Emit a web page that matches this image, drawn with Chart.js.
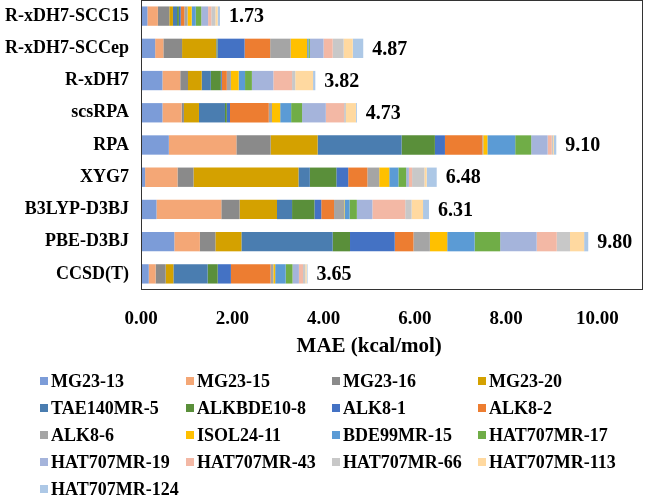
<!DOCTYPE html>
<html>
<head>
<meta charset="utf-8">
<script src="https://cdn.jsdelivr.net/npm/chart.js@4.4.1/dist/chart.umd.min.js"></script>
<style>
  html, body { margin: 0; padding: 0; background: #fff; }
  #wrap { position: relative; width: 652px; height: 500px; }
</style>
</head>
<body>
<div id="wrap"><canvas id="maeChart" width="652" height="500"></canvas></div>
<script>
// methods, top to bottom
const methods = ['R-xDH7-SCC15', 'R-xDH7-SCCep', 'R-xDH7', 'scsRPA', 'RPA', 'XYG7', 'B3LYP-D3BJ', 'PBE-D3BJ', 'CCSD(T)'];
const totals = [1.73, 4.87, 3.82, 4.73, 9.10, 6.48, 6.31, 9.80, 3.65];

const subsets = ['MG23-13', 'MG23-15', 'MG23-16', 'MG23-20', 'TAE140MR-5', 'ALKBDE10-8', 'ALK8-1', 'ALK8-2',
  'ALK8-6', 'ISOL24-11', 'BDE99MR-15', 'HAT707MR-17', 'HAT707MR-19', 'HAT707MR-43', 'HAT707MR-66',
  'HAT707MR-113', 'HAT707MR-124'];

// contribution of each subset to the MAE, one array per method (same order as subsets)
const scc15   = [0.14, 0.23, 0.25, 0.08, 0.09, 0.04, 0.04, 0.08, 0.07, 0.09, 0.09, 0.12, 0.15, 0.07, 0.09, 0.05, 0.05];
const sccep   = [0.31, 0.18, 0.41, 0.75, 0.02, 0.01, 0.59, 0.56, 0.45, 0.36, 0.03, 0.03, 0.30, 0.20, 0.24, 0.20, 0.23];
const xdh7    = [0.47, 0.39, 0.17, 0.30, 0.20, 0.22, 0.02, 0.11, 0.09, 0.17, 0.14, 0.15, 0.47, 0.41, 0.07, 0.39, 0.05];
const scsrpa  = [0.47, 0.42, 0.05, 0.33, 0.57, 0.04, 0.07, 0.85, 0.07, 0.18, 0.24, 0.24, 0.52, 0.40, 0.04, 0.22, 0.02];
const rpa     = [0.61, 1.48, 0.75, 1.03, 1.84, 0.73, 0.22, 0.82, 0.02, 0.09, 0.61, 0.35, 0.36, 0.09, 0.03, 0.02, 0.05];
const xyg7    = [0.09, 0.71, 0.35, 2.30, 0.25, 0.58, 0.26, 0.42, 0.26, 0.22, 0.20, 0.17, 0.06, 0.07, 0.27, 0.05, 0.22];
const b3lyp   = [0.34, 1.42, 0.40, 0.82, 0.33, 0.49, 0.15, 0.28, 0.22, 0.01, 0.11, 0.16, 0.34, 0.72, 0.14, 0.25, 0.13];
const pbe     = [0.73, 0.56, 0.34, 0.57, 2.00, 0.38, 0.98, 0.41, 0.36, 0.38, 0.60, 0.56, 0.80, 0.44, 0.29, 0.31, 0.09];
const ccsdt   = [0.17, 0.15, 0.22, 0.17, 0.75, 0.22, 0.29, 0.87, 0.06, 0.04, 0.23, 0.15, 0.14, 0.09, 0.05, 0.03, 0.02];

const xTicks = [0, 2, 4, 6, 8, 10];
const xTitle = 'MAE (kcal/mol)';

const colors = ['#7C9CD8', '#F4A776', '#8A8A8A', '#D4A100', '#4A7DB0', '#5A8F3A', '#4472C4', '#ED7D31',
  '#A5A5A5', '#FFC000', '#5B9BD5', '#70AD47', '#A5B4DB', '#F3B8A5', '#C8C8C8', '#FFD9A0', '#ADC8E6'];

const rows = [scc15, sccep, xdh7, scsrpa, rpa, xyg7, b3lyp, pbe, ccsdt];
const FONT = '"Liberation Serif", "Times New Roman", serif';

const datasets = subsets.map((name, s) => ({
  label: name,
  data: rows.map(r => r[s]),
  backgroundColor: colors[s],
  borderWidth: 0,
  barPercentage: 0.6,
  categoryPercentage: 1.0
}));

// bold totals after each bar
const totalLabels = {
  id: 'totalLabels',
  afterDatasetsDraw(chart) {
    const ctx = chart.ctx;
    const meta = chart.getDatasetMeta(chart.data.datasets.length - 1);
    ctx.save();
    ctx.font = 'bold 20px ' + FONT;
    ctx.fillStyle = '#000';
    ctx.textBaseline = 'middle';
    ctx.textAlign = 'left';
    meta.data.forEach((bar, i) => {
      ctx.fillText(totals[i].toFixed(2), bar.x + 9, bar.y + 1);
    });
    ctx.restore();
  }
};

// frame round the plot area + axis title centred under the 0-10 range
const frame = {
  id: 'frame',
  afterDraw(chart) {
    const a = chart.chartArea;
    const ctx = chart.ctx;
    const xs = chart.scales.x;
    ctx.save();
    ctx.strokeStyle = '#333';
    ctx.lineWidth = 1;
    ctx.strokeRect(Math.round(a.left) + 0.5, Math.round(a.top) + 0.5,
      Math.round(a.right - a.left) - 1, Math.round(a.bottom - a.top) - 1);
    ctx.font = 'bold 21px ' + FONT;
    ctx.fillStyle = '#000';
    ctx.textAlign = 'center';
    ctx.textBaseline = 'middle';
    const cx = (xs.getPixelForValue(xTicks[0]) + xs.getPixelForValue(xTicks[xTicks.length - 1])) / 2;
    ctx.fillText(xTitle, cx, a.bottom + 57);
    ctx.restore();
  }
};

// legend laid out as a 4-column grid like the original
const gridLegend = {
  id: 'gridLegend',
  afterDraw(chart) {
    const ctx = chart.ctx;
    ctx.save();
    ctx.font = 'bold 18px ' + FONT;
    ctx.textBaseline = 'middle';
    chart.data.datasets.forEach((ds, i) => {
      const col = i % 4, row = Math.floor(i / 4);
      const x = 40 + col * 146;
      const y = 381 + row * 27;
      ctx.fillStyle = ds.backgroundColor;
      ctx.fillRect(x, y - 4, 8, 8);
      ctx.fillStyle = '#000';
      ctx.fillText(ds.label, x + 11, y + 1);
    });
    ctx.restore();
  }
};

new Chart(document.getElementById('maeChart'), {
  type: 'bar',
  data: { labels: methods, datasets: datasets },
  options: {
    indexAxis: 'y',
    responsive: false,
    animation: false,
    layout: { padding: { left: 0, right: 9, top: 0, bottom: 150 } },
    plugins: {
      legend: { display: false },
      tooltip: { enabled: false }
    },
    scales: {
      x: {
        stacked: true,
        min: 0,
        max: 11,
        afterBuildTicks: axis => { axis.ticks = xTicks.map(v => ({ value: v })); },
        afterFit: scale => { scale.height = 60; scale.paddingLeft = 0; scale.paddingRight = 0; },
        grid: { display: false, drawTicks: false },
        border: { display: false },
        ticks: {
          padding: 18,
          color: '#000',
          font: { family: FONT, size: 19, weight: 'bold' },
          callback: v => Number(v).toFixed(2)
        }
      },
      y: {
        stacked: true,
        afterFit: scale => { scale.width = 141; scale.paddingTop = 0; scale.paddingBottom = 0; },
        grid: { display: false, drawTicks: false },
        border: { display: false },
        ticks: {
          padding: 12,
          color: '#000',
          font: { family: FONT, size: 18, weight: 'bold' }
        }
      }
    }
  },
  plugins: [totalLabels, frame, gridLegend]
});
</script>
</body>
</html>
